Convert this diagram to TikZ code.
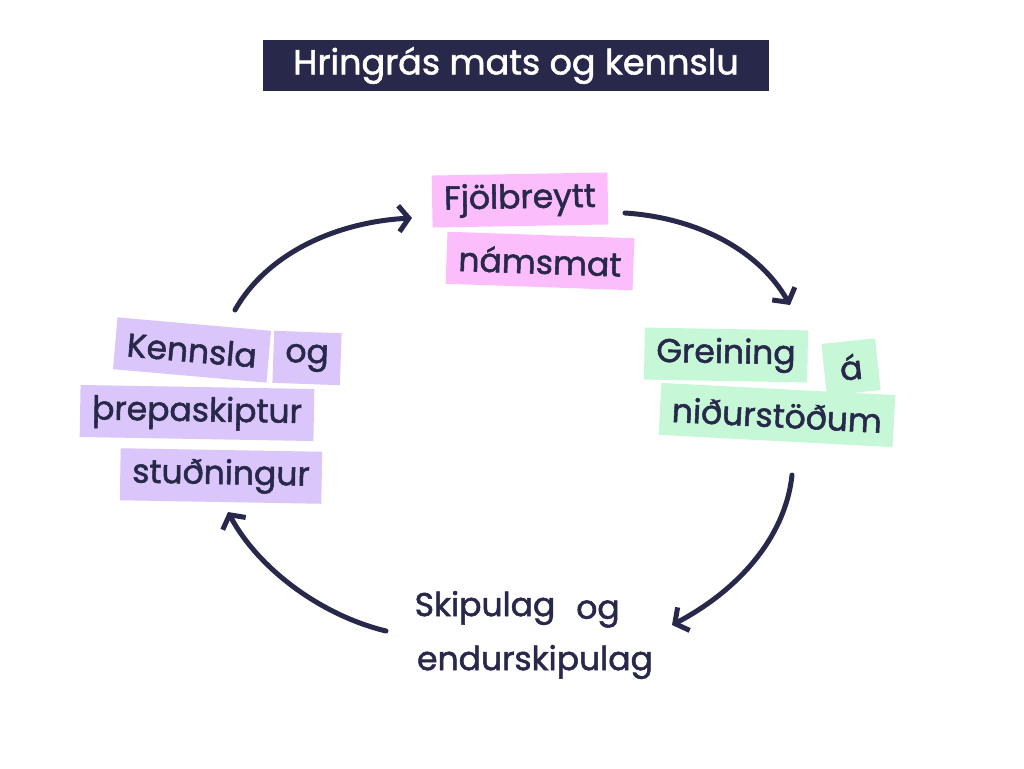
\documentclass[tikz,border=0pt]{standalone}
\usepackage{fontspec}
\setmainfont{Poppins}[FakeBold=1.6]
\usetikzlibrary{arrows.meta}
\definecolor{navy}{HTML}{28284A}
\definecolor{pinkbg}{HTML}{FBBDFB}
\definecolor{greenbg}{HTML}{C6F7D6}
\definecolor{lilacbg}{HTML}{DAC6FB}
\begin{document}
\begin{tikzpicture}[x=1pt,y=-1pt,
  word/.style={text=navy,font=\fontsize{33}{38}\selectfont,inner xsep=12pt,minimum height=52pt,anchor=center},
  pinkword/.style={word,fill=pinkbg},
  greenword/.style={word,fill=greenbg},
  lilacword/.style={word,fill=lilacbg},
  cyclearrow/.style={draw=navy,line width=5pt,line cap=round,-{Straight Barb[length=10pt,width=26pt,line width=5pt]}}]
\useasboundingbox[fill=white] (0,0) rectangle (1024,768);
\node[fill=navy,text=white,font=\fontsize{35}{40}\selectfont,minimum width=506pt,minimum height=50pt] (title) at (516,65.5) {Hringrás mats og kennslu};
\node[pinkword,rotate=1] (fjol) at (520,200) {Fjölbreytt};
\node[pinkword,rotate=-2] (nams) at (540,261) {námsmat};
\node[greenword,rotate=-1] (grein) at (726,355) {Greining};
\node[greenword,rotate=6,minimum width=54pt] (aa) at (851,367) {á};
\node[greenword,rotate=-3] (nidur) at (777,415) {niðurstöðum};
\node[lilacword,rotate=-5] (kenn) at (192,350) {Kennsla};
\node[lilacword,rotate=-2] (og1) at (307,358) {og};
\node[lilacword,rotate=-1] (threp) at (197,413) {þrepaskiptur};
\node[lilacword,rotate=-1] (studn) at (221,476) {stuðningur};
\node[word] (skip) at (485,608) {Skipulag};
\node[word] (og2) at (598,614) {og};
\node[word] (endur) at (535,662) {endurskipulag};
\coordinate (a1s) at (625,213);
\coordinate (a1e) at (790,305);
\coordinate (a2s) at (792,475);
\coordinate (a2e) at (672,625);
\coordinate (a3s) at (386,631);
\coordinate (a3e) at (228,512);
\coordinate (a4s) at (235,310);
\coordinate (a4e) at (412,218);
\draw[cyclearrow] (a1s) .. controls (700,218) and (760,252) .. (a1e);
\draw[cyclearrow] (a2s) .. controls (785,540) and (735,592) .. (a2e);
\draw[cyclearrow] (a3s) .. controls (320,615) and (258,568) .. (a3e);
\draw[cyclearrow] (a4s) .. controls (268,252) and (338,222) .. (a4e);
\end{tikzpicture}
\end{document}
